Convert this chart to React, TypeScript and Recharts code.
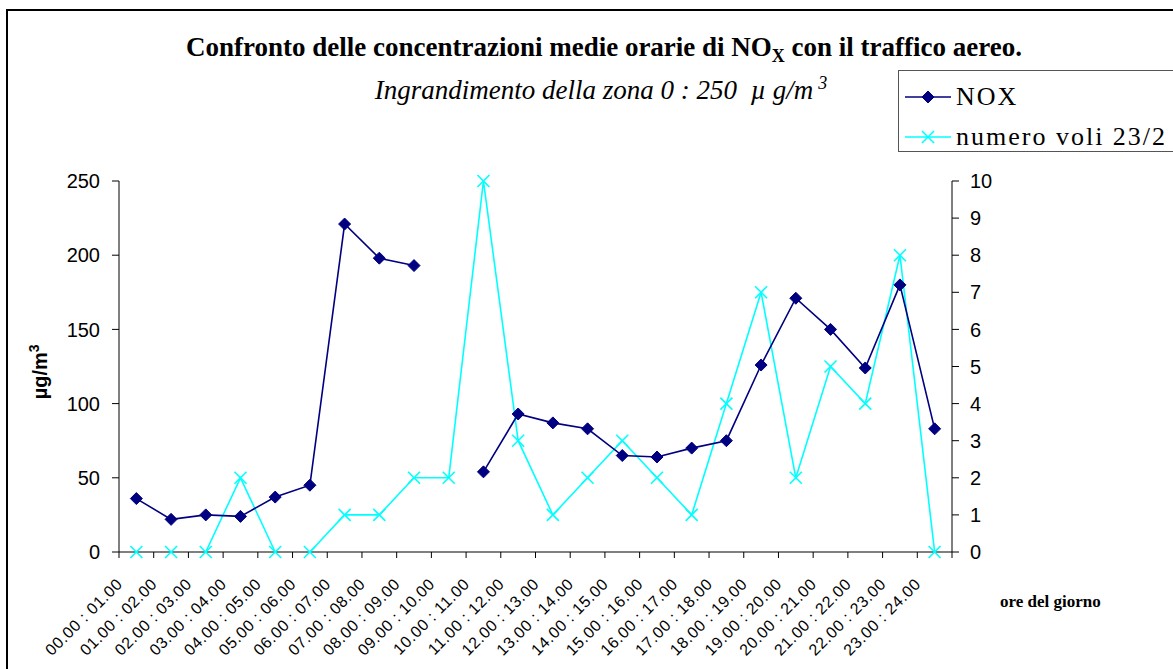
import React from "react";
import { LineChart, Line, XAxis, YAxis } from "recharts";

const categories = [
  "00.00 : 01.00", "01.00 : 02.00", "02.00 : 03.00", "03.00 : 04.00",
  "04.00 : 05.00", "05.00 : 06.00", "06.00 : 07.00", "07.00 : 08.00",
  "08.00 : 09.00", "09.00 : 10.00", "10.00 : 11.00", "11.00 : 12.00",
  "12.00 : 13.00", "13.00 : 14.00", "14.00 : 15.00", "15.00 : 16.00",
  "16.00 : 17.00", "17.00 : 18.00", "18.00 : 19.00", "19.00 : 20.00",
  "20.00 : 21.00", "21.00 : 22.00", "22.00 : 23.00", "23.00 : 24.00",
];
const noxValues = [
  36, 22, 25, 24, 37, 45, 221, 198, 193, null, 54, 93,
  87, 83, 65, 64, 70, 75, 126, 171, 150, 124, 180, 83,
];
const voliValues = [
  0, 0, 0, 2, 0, 0, 1, 1, 2, 2, 10, 3, 1, 2, 3, 2, 1, 4, 7, 2, 5, 4, 8, 0,
];
const leftTicks = [0, 50, 100, 150, 200, 250];
const rightTicks = [0, 1, 2, 3, 4, 5, 6, 7, 8, 9, 10];

const data = categories.map((name, i) => ({
  name,
  nox: noxValues[i],
  voli: voliValues[i],
}));

const NAVY = "#000080";
const CYAN = "#00FFFF";
const ARIAL = "'Liberation Sans', Arial, sans-serif";
const TIMES = "'Liberation Serif', 'Times New Roman', serif";

const W = 1240;
const H = 680;
const PLOT_LEFT = 111;
const PLOT_RIGHT = 944;
const HALF = (PLOT_RIGHT - PLOT_LEFT) / categories.length / 2;

const Diamond = (props: any) => {
  const { cx, cy, value } = props;
  if (value == null || cx == null || cy == null) return null;
  const s = 6;
  return (
    <path
      d={`M${cx},${cy - s}L${cx + s},${cy}L${cx},${cy + s}L${cx - s},${cy}Z`}
      fill={NAVY}
      stroke={NAVY}
    />
  );
};

const Cross = (props: any) => {
  const { cx, cy } = props;
  if (cx == null || cy == null) return null;
  const s = 6;
  return (
    <g stroke={CYAN} strokeWidth={1.6}>
      <line x1={cx - s} y1={cy - s} x2={cx + s} y2={cy + s} />
      <line x1={cx - s} y1={cy + s} x2={cx + s} y2={cy - s} />
    </g>
  );
};

// category boundaries get the tick marks, label sits under the category
const XTick = (props: any) => {
  const { x, y, payload, index } = props;
  const ay = y - 2;
  const tx = x - 13;
  const ty = ay + 33;
  return (
    <g>
      <line x1={x - HALF} y1={ay} x2={x - HALF} y2={ay + 6} stroke="#000" />
      {index === categories.length - 1 && (
        <line x1={x + HALF} y1={ay} x2={x + HALF} y2={ay + 6} stroke="#000" />
      )}
      <text
        x={tx}
        y={ty}
        textAnchor="end"
        transform={`rotate(-45, ${tx}, ${ty})`}
        fontFamily={ARIAL}
        fontSize={16}
        letterSpacing={0.6}
        fill="#000"
      >
        {payload.value}
      </text>
    </g>
  );
};

export default function App() {
  return (
    <div
      style={{
        position: "absolute",
        left: 6,
        top: 9,
        width: W,
        height: H + 20,
        border: "2px solid #000",
        background: "#fff",
      }}
    >
      <div
        style={{
          position: "absolute",
          left: 96,
          width: 1000,
          top: 20,
          textAlign: "center",
          fontFamily: TIMES,
          fontWeight: "bold",
          fontSize: 27,
          lineHeight: "32px",
          whiteSpace: "nowrap",
        }}
      >
        Confronto delle concentrazioni medie orarie di NO
        <sub style={{ fontSize: 18 }}>X</sub> con il traffico aereo.
      </div>
      <div
        style={{
          position: "absolute",
          left: 93,
          width: 1000,
          top: 56,
          textAlign: "center",
          fontFamily: TIMES,
          fontStyle: "italic",
          fontSize: 27,
          lineHeight: "32px",
          whiteSpace: "nowrap",
        }}
      >
        Ingrandimento della zona 0 : 250&nbsp; µ g/m
        <sup style={{ fontSize: 18, marginLeft: 5 }}>3</sup>
      </div>

      {/* legend */}
      <div
        style={{
          position: "absolute",
          left: 890,
          top: 59,
          width: 320,
          height: 80,
          border: "1px solid #555",
          background: "#fff",
          fontFamily: TIMES,
          fontSize: 26,
          letterSpacing: 2,
          whiteSpace: "nowrap",
        }}
      >
        <svg width={60} height={80} style={{ position: "absolute", left: 0, top: 0 }}>
          <line x1={6} y1={26} x2={52} y2={26} stroke={NAVY} strokeWidth={1.5} />
          <Diamond cx={29} cy={26} value={1} />
          <line x1={6} y1={66} x2={52} y2={66} stroke={CYAN} strokeWidth={1.5} />
          <Cross cx={29} cy={66} />
        </svg>
        <div style={{ position: "absolute", left: 57, top: 11, lineHeight: "30px" }}>NOX</div>
        <div style={{ position: "absolute", left: 57, top: 51, lineHeight: "30px" }}>
          numero voli 23/2
        </div>
      </div>

      <div
        style={{
          position: "absolute",
          left: 29 - 60,
          top: 358 - 12,
          width: 120,
          textAlign: "center",
          transform: "rotate(-90deg)",
          fontFamily: ARIAL,
          fontWeight: "bold",
          fontSize: 20,
          lineHeight: "24px",
        }}
      >
        µg/m<sup style={{ fontSize: 14 }}>3</sup>
      </div>

      <div
        style={{
          position: "absolute",
          left: 992,
          top: 580,
          fontFamily: TIMES,
          fontWeight: "bold",
          fontSize: 17,
          lineHeight: "22px",
          whiteSpace: "nowrap",
        }}
      >
        ore del giorno
      </div>

      <LineChart
        width={W}
        height={H}
        data={data}
        margin={{ top: 170, right: 0, bottom: 0, left: 0 }}
      >
        <XAxis
          dataKey="name"
          height={139}
          interval={0}
          padding={{ left: HALF, right: HALF }}
          tickSize={0}
          tickLine={false}
          tick={<XTick />}
          axisLine={{ stroke: "#808080", strokeWidth: 2 }}
        />
        <YAxis
          yAxisId="left"
          width={PLOT_LEFT}
          domain={[0, 250]}
          ticks={leftTicks}
          tickSize={7}
          tickMargin={12}
          axisLine={{ stroke: "#000" }}
          tickLine={{ stroke: "#000" }}
          tick={{ fill: "#000", fontFamily: ARIAL, fontSize: 20 }}
        />
        <YAxis
          yAxisId="right"
          orientation="right"
          width={W - PLOT_RIGHT}
          domain={[0, 10]}
          ticks={rightTicks}
          tickSize={7}
          tickMargin={11}
          axisLine={{ stroke: "#000" }}
          tickLine={{ stroke: "#000" }}
          tick={{ fill: "#000", fontFamily: ARIAL, fontSize: 20, textAnchor: "start" }}
        />
        <Line
          yAxisId="right"
          dataKey="voli"
          stroke={CYAN}
          strokeWidth={1.6}
          dot={<Cross />}
          activeDot={false}
          isAnimationActive={false}
        />
        <Line
          yAxisId="left"
          dataKey="nox"
          stroke={NAVY}
          strokeWidth={1.6}
          dot={<Diamond />}
          activeDot={false}
          connectNulls={false}
          isAnimationActive={false}
        />
      </LineChart>
    </div>
  );
}
